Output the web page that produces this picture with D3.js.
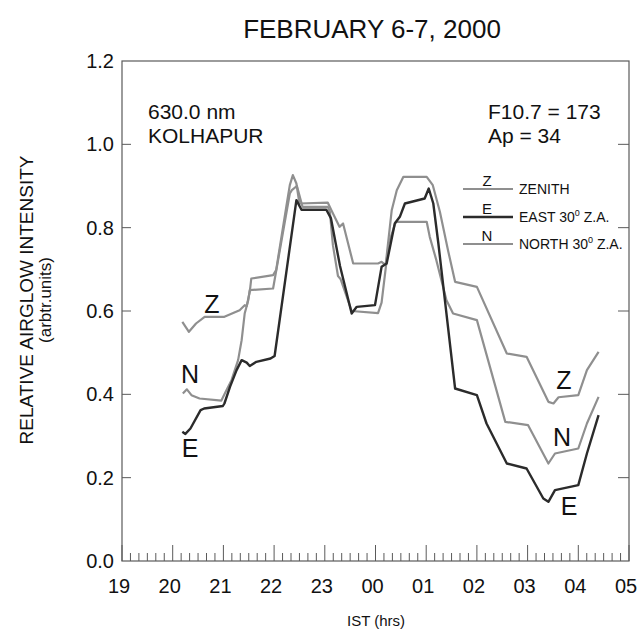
<!DOCTYPE html>
<html><head><meta charset="utf-8">
<script src="https://cdn.jsdelivr.net/npm/d3@7"></script>
<style>body{margin:0;background:#fff}svg{display:block;font-family:"Liberation Sans",Arial,Helvetica,sans-serif}</style>
</head><body><svg id="c" width="638" height="630"></svg>
<script>
// hours continue past midnight (24 = 00, 25 = 01 ...)
const xTicks = [19,20,21,22,23,24,25,26,27,28,29];
const xTickLabels = ["19","20","21","22","23","00","01","02","03","04","05"];
const yTicks = [0,0.2,0.4,0.6,0.8,1.0,1.2];
const zenith = [[20.19,0.574],[20.32,0.55],[20.46,0.57],[20.63,0.586],[21.02,0.586],[21.32,0.602],[21.42,0.614],[21.46,0.612],[21.52,0.646],[21.55,0.678],[21.98,0.686],[22.04,0.698],[22.24,0.85],[22.31,0.902],[22.37,0.926],[22.44,0.906],[22.5,0.858],[23.06,0.86],[23.13,0.842],[23.29,0.802],[23.36,0.81],[23.56,0.714],[24.05,0.714],[24.12,0.718],[24.2,0.71],[24.32,0.842],[24.42,0.89],[24.55,0.922],[25.01,0.922],[25.13,0.902],[25.27,0.838],[25.43,0.746],[25.57,0.67],[26.0,0.658],[26.59,0.498],[26.98,0.49],[27.41,0.382],[27.51,0.378],[27.61,0.393],[28.0,0.398],[28.17,0.458],[28.4,0.502]];
const east = [[20.19,0.31],[20.25,0.305],[20.35,0.318],[20.55,0.362],[20.62,0.366],[20.99,0.372],[21.02,0.378],[21.13,0.418],[21.26,0.458],[21.36,0.482],[21.46,0.476],[21.52,0.468],[21.65,0.478],[21.93,0.486],[22.01,0.492],[22.44,0.866],[22.54,0.843],[23.03,0.843],[23.12,0.823],[23.3,0.708],[23.53,0.594],[23.63,0.61],[23.99,0.614],[24.12,0.706],[24.22,0.714],[24.38,0.81],[24.48,0.826],[24.58,0.858],[24.97,0.87],[25.05,0.894],[25.14,0.858],[25.24,0.762],[25.57,0.414],[26.0,0.398],[26.19,0.33],[26.59,0.234],[26.98,0.222],[27.31,0.15],[27.41,0.142],[27.54,0.17],[28.0,0.182],[28.17,0.258],[28.4,0.35]];
const north = [[20.2,0.402],[20.28,0.412],[20.37,0.398],[20.53,0.39],[20.96,0.385],[21.06,0.41],[21.16,0.434],[21.29,0.482],[21.36,0.53],[21.42,0.594],[21.49,0.626],[21.52,0.65],[21.98,0.654],[22.31,0.882],[22.35,0.89],[22.45,0.9],[22.56,0.85],[23.06,0.85],[23.1,0.838],[23.16,0.758],[23.26,0.684],[23.31,0.677],[23.53,0.6],[24.05,0.595],[24.12,0.62],[24.26,0.762],[24.4,0.814],[25.01,0.814],[25.07,0.778],[25.2,0.722],[25.4,0.626],[25.53,0.594],[26.0,0.578],[26.56,0.334],[27.01,0.326],[27.41,0.234],[27.54,0.258],[28.0,0.27],[28.17,0.33],[28.4,0.394]];
const seriesNames = ["Z","E","N"];
const legendLabels = [["ZENITH",""],["EAST 30","0"," Z.A."],["NORTH 30","0"," Z.A."]];

const svg = d3.select("#c");
const x = d3.scaleLinear().domain([19,29]).range([122,629]);
const y = d3.scaleLinear().domain([0,1.2]).range([561,61]);
const frameCol = "#5a5a5a";
const grayCol = "#8f8f8f", darkCol = "#2b2b2b";

// frame
svg.append("rect").attr("x",x(19)).attr("y",y(1.2)).attr("width",x(29)-x(19)).attr("height",y(0)-y(1.2))
  .attr("fill","none").attr("stroke",frameCol).attr("stroke-width",1.2);

// x minor/major ticks (pointing up into plot)
const minor = d3.range(19, 29.001, 1/6);
svg.append("g").selectAll("line").data(minor).join("line")
  .attr("x1",d=>x(d)).attr("x2",d=>x(d)).attr("y1",y(0))
  .attr("y2",(d,i)=> i%6===0 ? y(0)-16 : y(0)-8)
  .attr("stroke",frameCol).attr("stroke-width",1);
svg.append("g").selectAll("text").data(xTicks).join("text")
  .attr("x",d=>x(d)-3).attr("y",593).attr("text-anchor","middle")
  .attr("font-size",20).attr("fill","#111").text((d,i)=>xTickLabels[i]);

// y ticks on both sides, inward
const yIn = yTicks.filter(d=>d>0 && d<1.2);
svg.append("g").selectAll("line").data(yIn).join("line")
  .attr("x1",x(19)).attr("x2",x(19)+9).attr("y1",d=>y(d)).attr("y2",d=>y(d))
  .attr("stroke",frameCol).attr("stroke-width",1);
svg.append("g").selectAll("line").data(yIn).join("line")
  .attr("x1",x(29)).attr("x2",x(29)-11).attr("y1",d=>y(d)).attr("y2",d=>y(d))
  .attr("stroke",frameCol).attr("stroke-width",1);
svg.append("g").selectAll("text").data(yTicks).join("text")
  .attr("x",114).attr("y",d=>y(d)+7).attr("text-anchor","end")
  .attr("font-size",20).attr("fill","#111").text(d=>d.toFixed(1));

// lines
const line = d3.line().x(d=>x(d[0])).y(d=>y(d[1]));
svg.append("path").datum(north).attr("d",line).attr("fill","none").attr("stroke",grayCol).attr("stroke-width",2.2).attr("stroke-linejoin","round");
svg.append("path").datum(zenith).attr("d",line).attr("fill","none").attr("stroke",grayCol).attr("stroke-width",2.2).attr("stroke-linejoin","round");
svg.append("path").datum(east).attr("d",line).attr("fill","none").attr("stroke",darkCol).attr("stroke-width",2.4).attr("stroke-linejoin","round");

// curve labels
const curveLab = [["Z",212,313],["N",190,383],["E",190,457],["Z",564,389],["N",562,446],["E",569,515]];
svg.append("g").selectAll("text").data(curveLab).join("text")
  .attr("x",d=>d[1]).attr("y",d=>d[2]).attr("text-anchor","middle")
  .attr("font-size",25).attr("fill","#111").text(d=>d[0]);

// titles
svg.append("text").attr("x",372).attr("y",38).attr("text-anchor","middle").attr("font-size",26).attr("fill","#111").text("FEBRUARY 6-7, 2000");
svg.append("text").attr("x",376).attr("y",626).attr("text-anchor","middle").attr("font-size",15).attr("fill","#111").text("IST (hrs)");
svg.append("text").attr("transform","translate(33,300) rotate(-90)").attr("text-anchor","middle").attr("font-size",19).attr("fill","#111").text("RELATIVE AIRGLOW INTENSITY");
svg.append("text").attr("transform","translate(51,300) rotate(-90)").attr("text-anchor","middle").attr("font-size",17).attr("fill","#111").text("(arbtr.units)");

// annotations
svg.append("text").attr("x",148).attr("y",119).attr("font-size",21).attr("fill","#111").text("630.0 nm");
svg.append("text").attr("x",148).attr("y",143).attr("font-size",21).attr("fill","#111").text("KOLHAPUR");
svg.append("text").attr("x",488).attr("y",119).attr("font-size",21).attr("fill","#111").text("F10.7 = 173");
svg.append("text").attr("x",488).attr("y",143).attr("font-size",21).attr("fill","#111").text("Ap = 34");

// legend
const legY = [189,217,244];
const legCols = [grayCol,darkCol,grayCol];
const lg = svg.append("g");
seriesNames.forEach((n,i)=>{
  lg.append("line").attr("x1",463).attr("x2",513).attr("y1",legY[i]).attr("y2",legY[i]).attr("stroke",legCols[i]).attr("stroke-width",i===1?2.6:2);
  lg.append("text").attr("x",487).attr("y",legY[i]-3).attr("text-anchor","middle").attr("font-size",15).attr("fill","#111").text(n);
  const t = lg.append("text").attr("x",519).attr("y",legY[i]+5).attr("font-size",14).attr("fill","#111");
  const parts = legendLabels[i];
  t.append("tspan").text(parts[0]);
  if(parts.length>1 && parts[1]){
    t.append("tspan").attr("font-size",9).attr("dy",-6).text(parts[1]);
    t.append("tspan").attr("dy",6).text(parts[2]);
  }
});
</script></body></html>
